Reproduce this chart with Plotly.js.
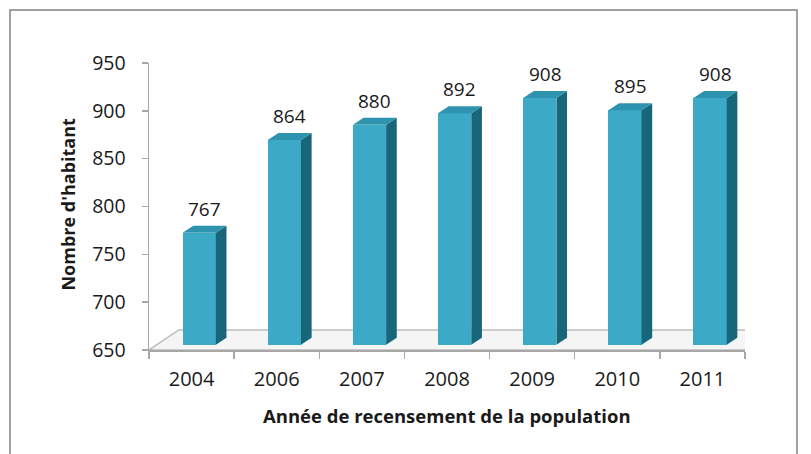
<!DOCTYPE html>
<html>
<head>
<meta charset="utf-8">
<script src="https://cdn.plot.ly/plotly-3.0.1.min.js"></script>
<style>html,body{margin:0;padding:0;background:#fff;}#chart{width:811px;height:454px;}</style>
</head>
<body>
<div id="chart"></div>
<script>
// ---- data ----
const years = ["2004", "2006", "2007", "2008", "2009", "2010", "2011"];
const habitants = [767, 864, 880, 892, 908, 895, 908];
const yTicks = [650, 700, 750, 800, 850, 900, 950];

// ---- 3D style constants ----
const BASE = 650;
const XOFF = 0.09;     // front face center offset (x units)
const W = 0.39;        // front face width
const DX = 0.125;      // depth in x units
const DY = 7.3;        // depth in y units
const LIFT = 5.5;      // projection lift of front face
const FLOOR_DX = 0.35, FLOOR_DY = 21;

const FRONT = "#3CA9C7", SIDE = "#17667A", TOP = "#2E93AE";
const idx = years.map((_, i) => i);

const traces = [];
// front faces
traces.push({
  type: "bar", x: idx.map(i => i + XOFF), y: habitants.map(v => v - BASE),
  base: habitants.map(() => BASE + LIFT), width: W,
  marker: {color: FRONT, line: {width: 0}}, hoverinfo: "skip", showlegend: false
});
// side faces and top faces
habitants.forEach((v, i) => {
  const x0 = i + XOFF - W / 2, x1 = i + XOFF + W / 2;
  const b = BASE + LIFT, t = v + LIFT;
  traces.push({
    type: "scatter", mode: "lines", hoverinfo: "skip", showlegend: false,
    x: [x1, x1 + DX, x1 + DX, x1, x1], y: [b, b + DY, t + DY, t, b],
    fill: "toself", fillcolor: SIDE, line: {width: 0}
  });
  traces.push({
    type: "scatter", mode: "lines", hoverinfo: "skip", showlegend: false,
    x: [x0, x1, x1 + DX, x0 + DX, x0], y: [t, t, t + DY, t + DY, t],
    fill: "toself", fillcolor: TOP, line: {width: 0}
  });
});

const annotations = habitants.map((v, i) => ({
  x: i + XOFF + DX / 2, y: v + LIFT + DY, xref: "x", yref: "y", xanchor: "center",
  text: String(v), showarrow: false, yanchor: "bottom", yshift: 2,
  font: {family: "Open Sans", size: 19, color: "#1a1a1a"}
}));
annotations.push({
  xref: "paper", yref: "paper", x: 0.5, y: -0.2265, xanchor: "center", yanchor: "middle",
  text: "<b>Année de recensement de la population</b>", showarrow: false,
  font: {family: "Open Sans", size: 18.5, color: "#1a1a1a"}
});
annotations.push({
  xref: "paper", yref: "paper", x: -0.136, y: 0.51, xanchor: "center", yanchor: "middle", textangle: -90,
  text: "<b>Nombre d'habitant</b>", showarrow: false,
  font: {family: "Open Sans", size: 18, color: "#1a1a1a"}
});

const fx0 = -0.5, fx1 = 6.5;
const floorPath = "M " + fx0 + "," + BASE + " L " + fx1 + "," + BASE + " L " + (fx1 + FLOOR_DX) + "," + (BASE + FLOOR_DY) +
  " L " + (fx0 + FLOOR_DX) + "," + (BASE + FLOOR_DY) + " Z";

const layout = {
  width: 811, height: 454,
  margin: {l: 149, r: 66, t: 63, b: 104},
  paper_bgcolor: "#fff", plot_bgcolor: "rgba(0,0,0,0)",
  showlegend: false,
  xaxis: {
    range: [-0.5, 6.5], tickvals: idx, ticktext: years, ticks: "",
    showgrid: false, zeroline: false, showline: true, linecolor: "#A8A8A8", linewidth: 1.5,
    ticklabelstandoff: 10,
    minor: {tickmode: "linear", tick0: -0.5, dtick: 1, ticks: "outside", ticklen: 7, tickcolor: "#A8A8A8", tickwidth: 1.5, showgrid: false},
    tickfont: {family: "Open Sans", size: 20, color: "#1a1a1a"}, fixedrange: true
  },
  yaxis: {
    range: [650, 950], tickvals: yTicks, ticks: "outside", ticklen: 6, tickcolor: "#A8A8A8", tickwidth: 1.5,
    showgrid: false, zeroline: false, showline: true, linecolor: "#A8A8A8", linewidth: 1.5,
    ticklabelstandoff: 12,
    tickfont: {family: "Open Sans", size: 19.5, color: "#1a1a1a"}, fixedrange: true
  },
  shapes: [{
    type: "rect", xref: "paper", yref: "paper",
    x0: -0.2332, x1: 1.0872, y0: -0.5, y1: 1.1847,
    line: {color: "#A0A0A0", width: 2}, fillcolor: "rgba(0,0,0,0)", layer: "below"
  }, {
    type: "path", xref: "x", yref: "y", path: floorPath, layer: "below",
    fillcolor: "#F5F5F5", line: {color: "#BDBDBD", width: 1.5}
  }],
  annotations: annotations,
  bargap: 0
};

Plotly.newPlot("chart", traces, layout, {displayModeBar: false, staticPlot: true});
</script>
</body>
</html>
